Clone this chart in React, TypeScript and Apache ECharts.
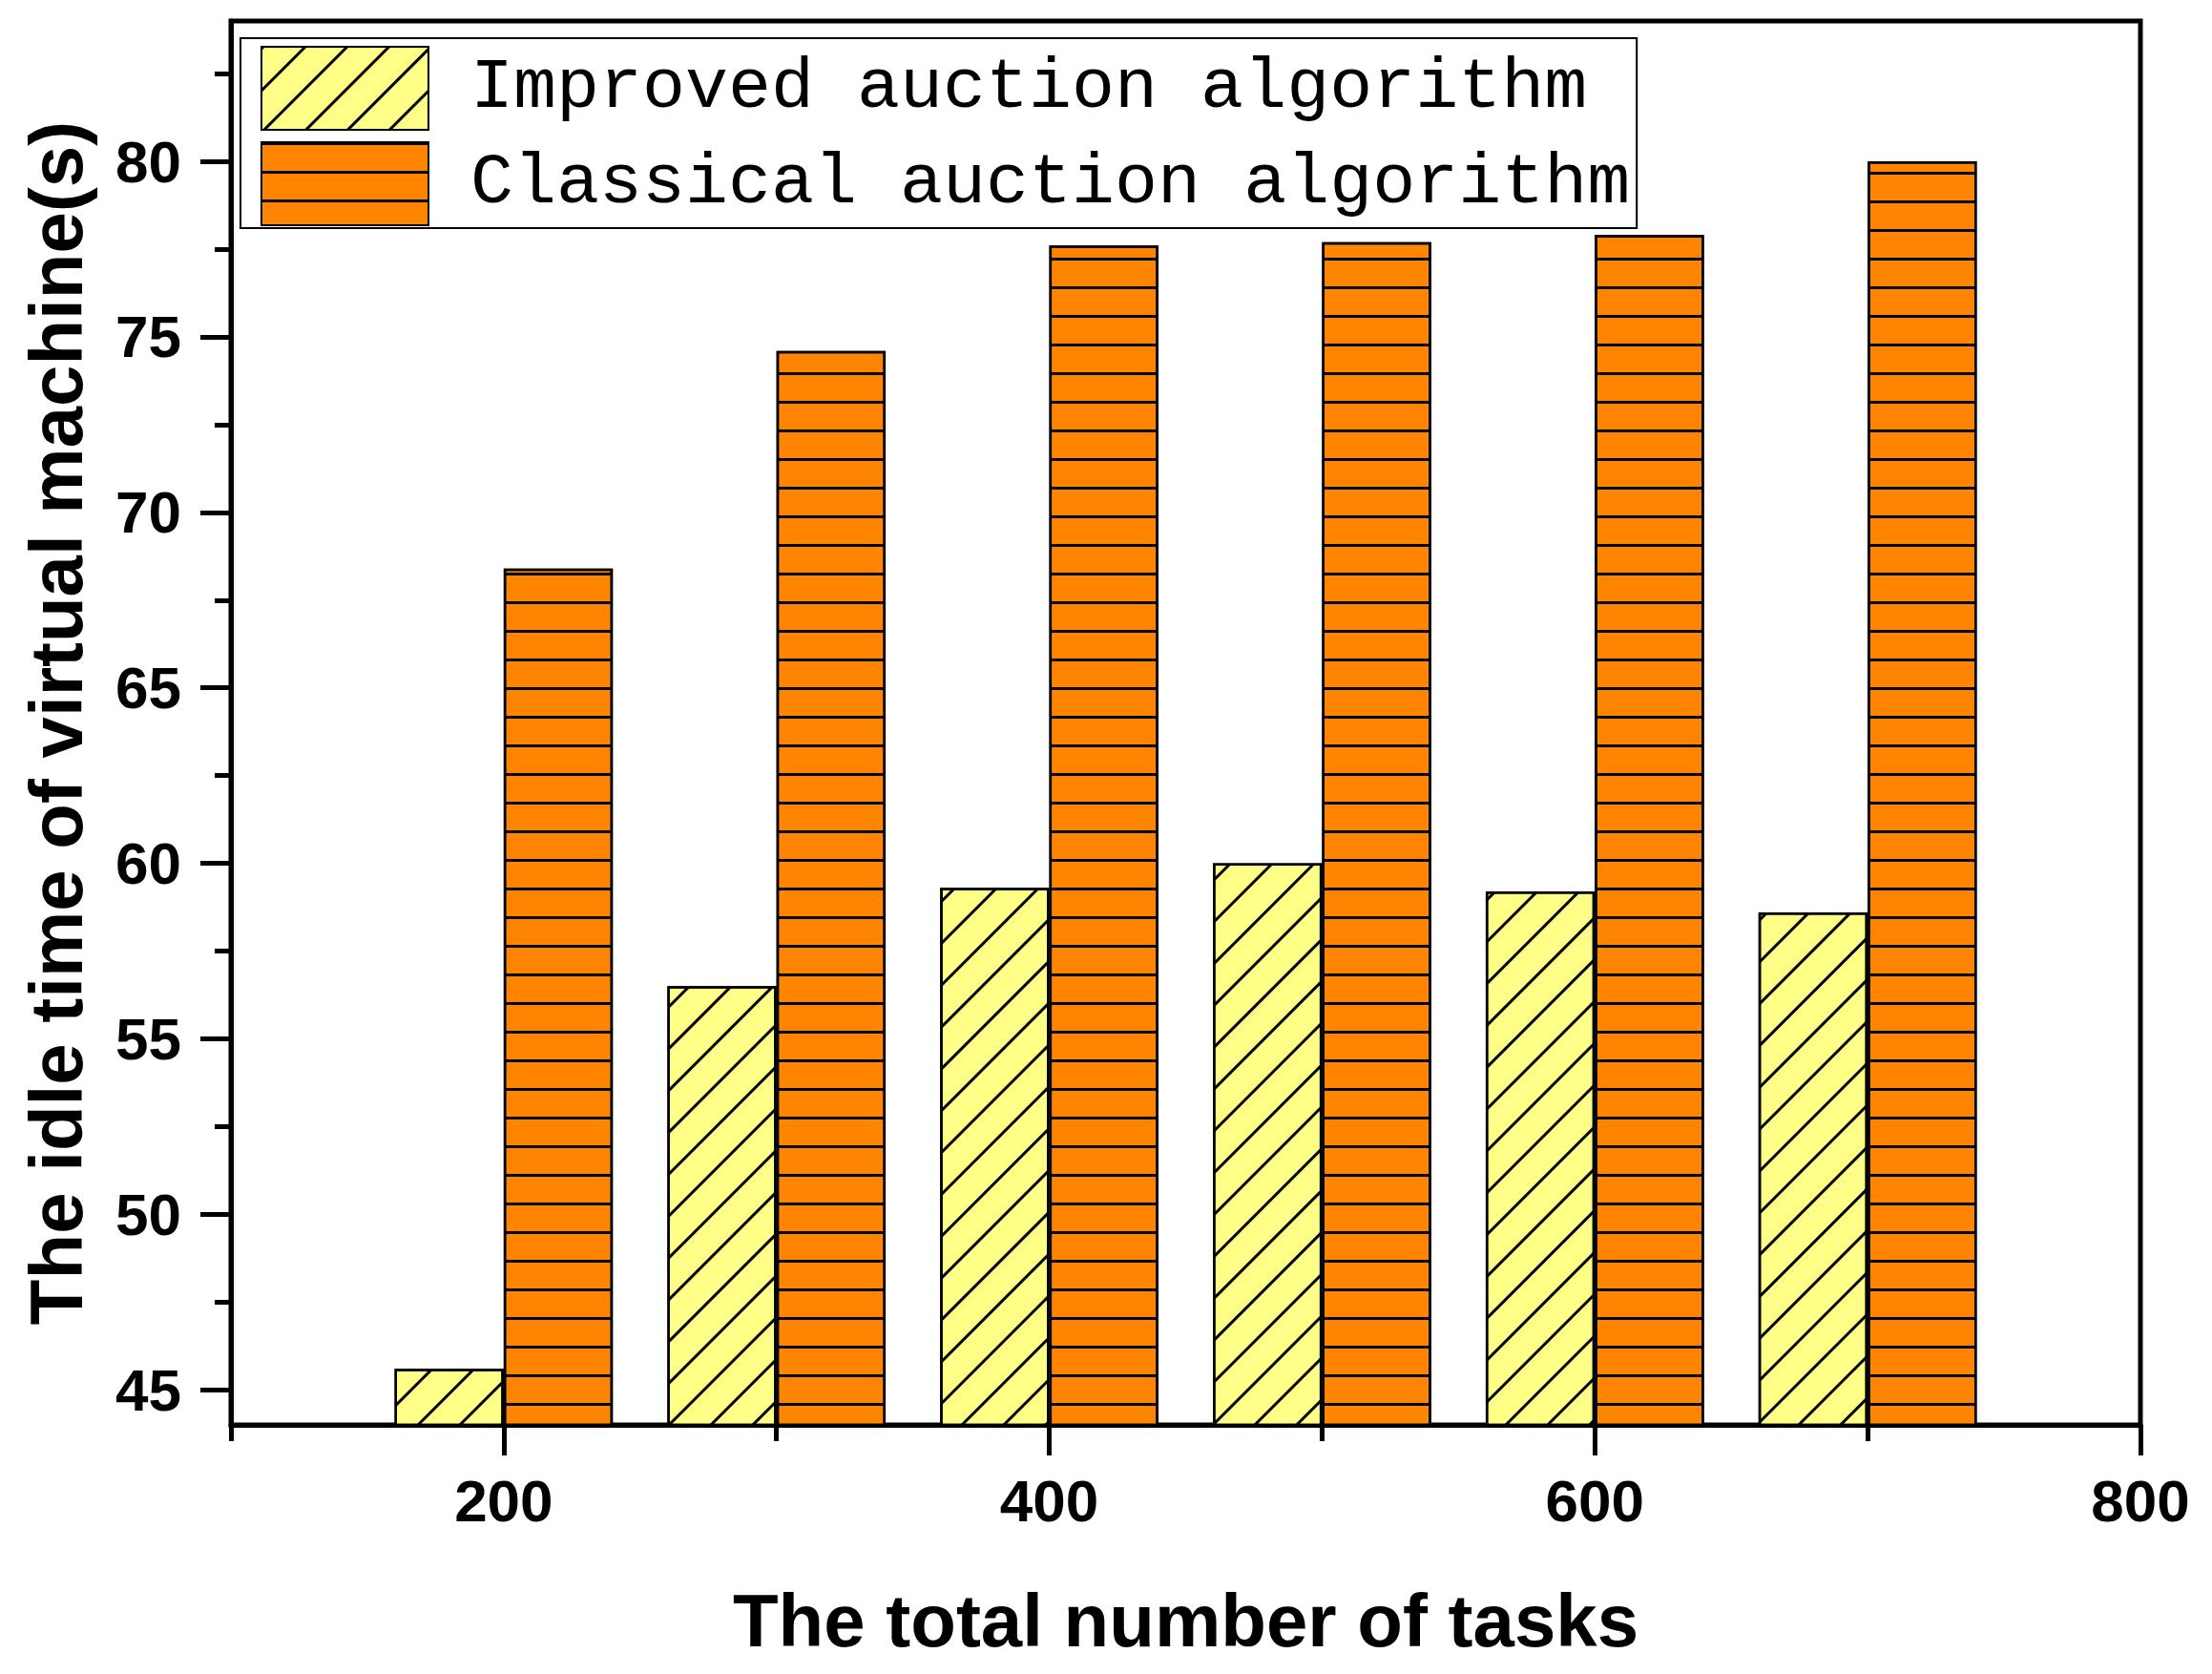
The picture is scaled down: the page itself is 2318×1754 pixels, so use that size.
import React, { useEffect, useRef } from "react";
import * as echarts from "echarts";

const taskCounts = [200, 300, 400, 500, 600, 700];
const improvedIdle = [45.6, 56.5, 59.3, 60.0, 59.2, 58.6];
const classicalIdle = [68.4, 74.6, 77.6, 77.7, 77.9, 80.0];
const seriesNames = ["Improved auction algorithm", "Classical auction algorithm"];
const xMajorTicks = [200, 400, 600, 800];
const xMinorTicks = [100, 300, 500, 700];
const yMajorTicks = [45, 50, 55, 60, 65, 70, 75, 80];
const yMinorTicks = [47.5, 52.5, 57.5, 62.5, 67.5, 72.5, 77.5, 82.5];
const xTitle = "The total number of tasks";
const yTitle = "The idle time of virtual machine(s)";

export default function App() {
  const ref = useRef<HTMLDivElement>(null);
  useEffect(() => {
    if (!ref.current) return;
    const chart = echarts.init(ref.current, null, { renderer: "svg" });
    const labelFont = { fontFamily: "Liberation Sans", fontWeight: "bold" as const, fontSize: 62, color: "#000" };
    const titleFont = { fontFamily: "Liberation Sans", fontWeight: "bold" as const, fontSize: 78, color: "#000" };
    const axisLine = { show: true, lineStyle: { color: "#000", width: 5 } };
    chart.setOption({
      animation: false,
      backgroundColor: "#fff",
      grid: {
        left: 242, right: 75, top: 22, bottom: 261,
        outerBoundsMode: "none", containLabel: false,
        show: true, borderColor: "#000", borderWidth: 5, backgroundColor: "transparent",
      },
      legend: {
        orient: "vertical",
        left: 252, top: 40,
        padding: [8, 7, 2, 21],
        itemWidth: 175, itemHeight: 87, itemGap: 11,
        icon: "rect",
        borderColor: "#000", borderWidth: 2,
        data: seriesNames,
        textStyle: { fontFamily: "Liberation Mono", fontSize: 75, color: "#000", padding: [0, 0, 0, 39] },
      },
      xAxis: [
        {
          type: "value", min: 100, max: 800,
          axisLine,
          axisTick: { show: true, inside: false, length: 32, lineStyle: { color: "#000", width: 5 }, customValues: xMajorTicks },
          axisLabel: { ...labelFont, margin: 48, customValues: xMajorTicks },
          splitLine: { show: false },
          name: xTitle, nameLocation: "middle", nameGap: 166, nameMoveOverlap: false,
          nameTextStyle: titleFont,
        },
        {
          type: "value", min: 100, max: 800, position: "bottom",
          axisLine: { show: false },
          axisTick: { show: true, inside: false, length: 17, lineStyle: { color: "#000", width: 5 }, customValues: xMinorTicks },
          axisLabel: { show: false },
          splitLine: { show: false },
        },
      ],
      yAxis: [
        {
          type: "value", min: 44, max: 84,
          axisLine,
          axisTick: { show: true, inside: false, length: 32, lineStyle: { color: "#000", width: 5 }, customValues: yMajorTicks },
          axisLabel: { ...labelFont, margin: 52, customValues: yMajorTicks },
          splitLine: { show: false },
          name: yTitle, nameLocation: "middle", nameGap: 144, nameRotate: 90, nameMoveOverlap: false,
          nameTextStyle: titleFont,
        },
        {
          type: "value", min: 44, max: 84, position: "left", offset: 0,
          axisLine: { show: false },
          axisTick: { show: true, inside: false, length: 17, lineStyle: { color: "#000", width: 5 }, customValues: yMinorTicks },
          axisLabel: { show: false },
          splitLine: { show: false },
        },
      ],
      series: [
        {
          name: seriesNames[0], type: "bar", xAxisIndex: 0, yAxisIndex: 0,
          barWidth: "40%", barGap: "0%",
          data: taskCounts.map((t, i) => [t, improvedIdle[i]]),
          itemStyle: {
            color: "#FFFF88", borderColor: "#000", borderWidth: 2.5,
            decal: { symbol: "rect", symbolSize: 1, dashArrayX: [1, 0], dashArrayY: [2.5, 27.5], rotation: -Math.PI / 4, color: "#000" },
          },
        },
        {
          name: seriesNames[1], type: "bar", xAxisIndex: 0, yAxisIndex: 0,
          barWidth: "40%", barGap: "0%",
          data: taskCounts.map((t, i) => [t, classicalIdle[i]]),
          itemStyle: {
            color: "#FF8400", borderColor: "#000", borderWidth: 2.5,
            decal: { symbol: "rect", symbolSize: 1, dashArrayX: [1, 0], dashArrayY: [3, 27], rotation: 0, color: "#000" },
          },
        },
      ],
    });
    return () => chart.dispose();
  }, []);
  return <div ref={ref} style={{ position: "fixed", left: 0, top: 0, width: 2318, height: 1754 }} />;
}
